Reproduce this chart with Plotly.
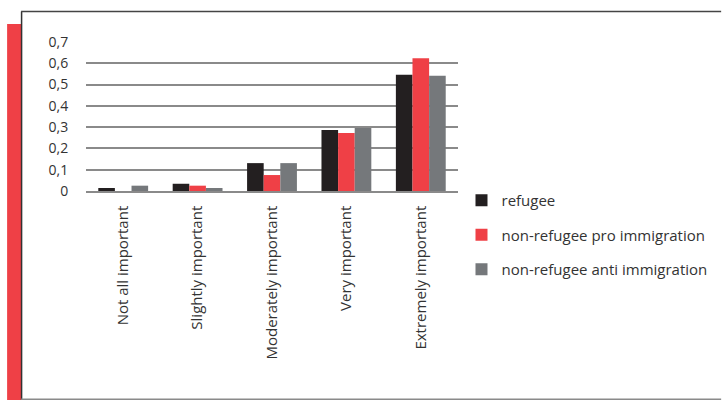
import plotly.graph_objects as go

categories = ["Not all important", "Slightly important", "Moderately important",
              "Very important", "Extremely important"]
refugee = [0.014, 0.034, 0.131, 0.286, 0.546]
pro_immigration = [0.0, 0.025, 0.075, 0.272, 0.624]
anti_immigration = [0.025, 0.014, 0.131, 0.296, 0.541]
series_names = ["refugee", "non-refugee pro immigration", "non-refugee anti immigration"]
y_tickvals = [0, 0.1, 0.2, 0.3, 0.4, 0.5, 0.6, 0.7]
y_ticktext = ["0", "0,1", "0,2", "0,3", "0,4", "0,5", "0,6", "0,7"]

colors = ["#231f20", "#ef4046", "#75787b"]
W, H = 722, 400
L, R, T, B = 86, 458.5, 42, 191  # plot area in px

def px_x(px):
    return (px - L) / (R - L)

def px_y(py):
    return (B - py) / (B - T)

fig = go.Figure()
for i, (name, vals) in enumerate(zip(series_names, [refugee, pro_immigration, anti_immigration])):
    fig.add_trace(go.Bar(x=categories, y=vals, name=name, marker_color=colors[i],
                         marker_line_width=0, legendgroup=str(i)))

font_family = "Open Sans, sans-serif"
fig.update_layout(
    width=W, height=H,
    margin=dict(l=L, r=W - R, t=T, b=H - B, autoexpand=False),
    paper_bgcolor="white", plot_bgcolor="white",
    barmode="group", bargap=0.33, bargroupgap=0,
    separators=", ",
    font=dict(family=font_family, size=15, color="#333333"),
    showlegend=True,
    legend=dict(x=px_x(462), y=px_y(184), xanchor="left", yanchor="top",
                font=dict(size=15, color="#333333"), tracegroupgap=12,
                itemwidth=30, bgcolor="rgba(0,0,0,0)"),
    xaxis=dict(tickangle=-90, showgrid=False, showline=True, linecolor="#8a8a8a",
               linewidth=1.5, ticks="outside", ticklen=7, tickcolor="rgba(0,0,0,0)",
               tickfont=dict(size=15, color="#333333"), fixedrange=True),
    yaxis=dict(range=[0, 0.7], tickvals=y_tickvals, ticktext=y_ticktext,
               showgrid=True, gridcolor="#8a8a8a", gridwidth=1.5, zeroline=False,
               showline=False, ticks="outside", ticklen=14, tickcolor="rgba(0,0,0,0)",
               tickfont=dict(size=14, color="#333333"), fixedrange=True),
)

shapes = [
    # red side bar
    dict(type="rect", xref="paper", yref="paper", x0=px_x(7), x1=px_x(21),
         y0=px_y(24), y1=px_y(400), fillcolor="#ef4046", line_width=0, layer="below"),
    # left border
    dict(type="line", xref="paper", yref="paper", x0=px_x(21.5), x1=px_x(21.5),
         y0=px_y(11.5), y1=px_y(400), line=dict(color="#333333", width=1.5)),
    # top border
    dict(type="line", xref="paper", yref="paper", x0=px_x(21), x1=px_x(722),
         y0=px_y(11.5), y1=px_y(11.5), line=dict(color="#444444", width=1.5)),
    # bottom border
    dict(type="line", xref="paper", yref="paper", x0=px_x(21), x1=px_x(722),
         y0=px_y(399.3), y1=px_y(399.3), line=dict(color="#8a8a8a", width=1.5)),
]
fig.update_layout(shapes=shapes)

fig.write_html("out.html", config={"displayModeBar": False},
               post_script="document.body.style.margin='0';document.body.style.padding='0';document.body.style.overflow='hidden';")
